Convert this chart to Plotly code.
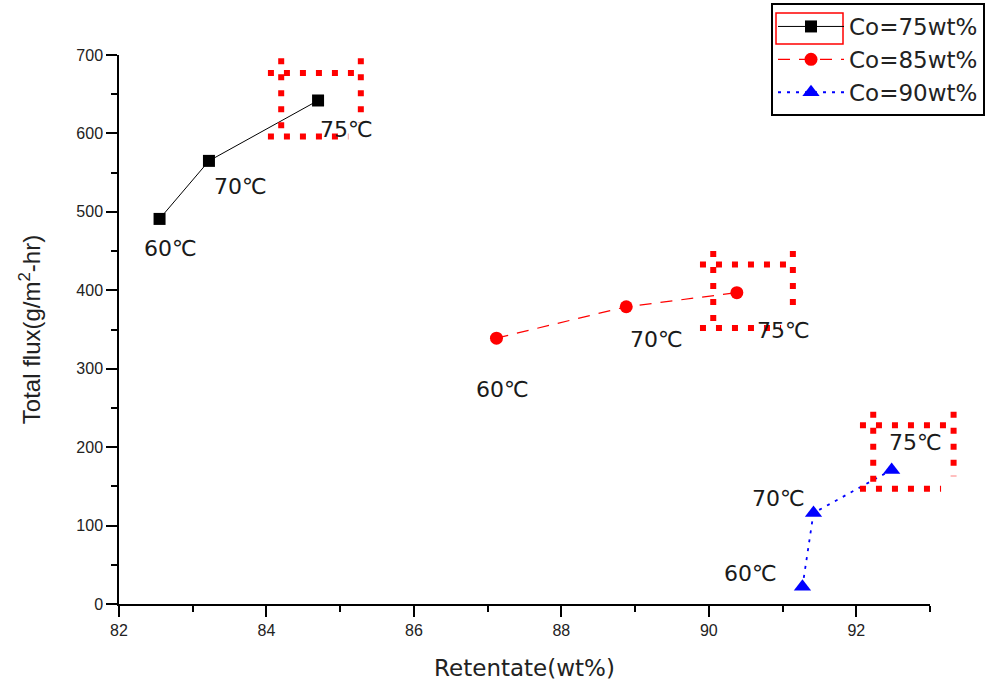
import plotly.graph_objects as go

# Retentate concentration (wt%) and total flux for three feed concentrations
temps = [60, 70, 75]

co75_x = [82.55, 83.22, 84.70]
co75_y = [491, 565, 642]

co85_x = [87.12, 88.88, 90.38]
co85_y = [339, 379, 397]

co90_x = [91.27, 91.42, 92.48]
co90_y = [22, 116, 171]

series_names = ["Co=75wt%", "Co=85wt%", "Co=90wt%"]

X_RANGE = [82, 93]
Y_RANGE = [0, 700]

FONT = "Liberation Sans, Arial, sans-serif"
WIDE_FONT = "DejaVu Sans, Liberation Sans, sans-serif"

fig = go.Figure()

fig.add_trace(go.Scatter(
    x=co75_x, y=co75_y, name=series_names[0], mode="lines+markers",
    line=dict(color="black", width=1),
    marker=dict(symbol="square", size=12, color="black"),
))
fig.add_trace(go.Scatter(
    x=co85_x, y=co85_y, name=series_names[1], mode="lines+markers",
    line=dict(color="#ff0000", width=1.2, dash="12px,9px"),
    marker=dict(symbol="circle", size=13, color="#ff0000"),
))
fig.add_trace(go.Scatter(
    x=co90_x, y=co90_y, name=series_names[2], mode="lines+markers",
    line=dict(color="#0000ff", width=1.8, dash="3px,6px"),
    marker=dict(symbol="triangle-up", size=15, color="#0000ff"),
))

# temperature labels next to each point (pixel offsets from the marker)
label_offsets = [
    [(11, -30), (32, -26), (28, -29)],
    [(6, -51), (30, -33), (47, -38)],
    [(-52, 13), (-35, 15), (24, 27)],
]
for xs, ys, offs in zip([co75_x, co85_x, co90_x], [co75_y, co85_y, co90_y], label_offsets):
    for t, x, y, (dx, dy) in zip(temps, xs, ys, offs):
        fig.add_annotation(
            x=x, y=y, text=f"{t}℃", showarrow=False,
            xshift=dx, yshift=dy,
            font=dict(family=WIDE_FONT, size=22, color="#1a1a1a"),
        )


def to_paper_x(v):
    return (v - X_RANGE[0]) / (X_RANGE[1] - X_RANGE[0])


def to_paper_y(v):
    return (v - Y_RANGE[0]) / (Y_RANGE[1] - Y_RANGE[0])


# dotted highlight boxes around the 75 degC points (data units)
highlight_boxes = [
    dict(row_start=84.02, left=84.20, right=85.28, bottom_end=85.11,
         top=677, bottom=596, col_start=696, right_end=614),
    dict(row_start=89.88, left=90.06, right=91.14, bottom_end=90.98,
         top=433, bottom=352, col_start=450, right_end=369),
    dict(row_start=92.05, left=92.23, right=93.32, bottom_end=93.15,
         top=228, bottom=147, col_start=245, right_end=163),
]
dot_line = dict(color="#ff0000", width=6, dash="6px,10px")
for b in highlight_boxes:
    segs = [
        (b["row_start"], b["top"], b["right"], b["top"]),
        (b["row_start"], b["bottom"], b["bottom_end"], b["bottom"]),
        (b["left"], b["col_start"], b["left"], b["bottom"]),
        (b["right"], b["col_start"], b["right"], b["right_end"]),
    ]
    for x0, y0, x1, y1 in segs:
        fig.add_shape(
            type="line", xref="paper", yref="paper",
            x0=to_paper_x(x0), y0=to_paper_y(y0),
            x1=to_paper_x(x1), y1=to_paper_y(y1),
            line=dot_line, layer="above",
        )

# red selection frame around the first legend sample
fig.add_shape(
    type="rect", xref="paper", yref="paper",
    x0=(776 - 119) / 811, x1=(843 - 119) / 811,
    y0=(604 - 44) / 549, y1=(604 - 13) / 549,
    line=dict(color="#ff0000", width=1.5), layer="above",
)

axis_common = dict(
    showgrid=False, zeroline=False, showline=True,
    linecolor="black", linewidth=1.5,
    ticks="outside", ticklen=11, tickwidth=1.5, tickcolor="black",
    tickfont=dict(family=FONT, size=16, color="#222"),
    minor=dict(ticks="outside", ticklen=6, tickwidth=1.5, tickcolor="black"),
)

fig.update_xaxes(
    range=X_RANGE, dtick=2, tick0=82, minor_dtick=1,
    title=dict(text="Retentate(wt%)", font=dict(family=WIDE_FONT, size=23, color="#222"), standoff=22),
    **axis_common,
)
fig.update_yaxes(
    range=Y_RANGE, dtick=100, tick0=0, minor_dtick=50,
    title=dict(text="Total flux(g/m<sup>2</sup>-hr)", font=dict(family=FONT, size=24, color="#222"), standoff=29),
    **axis_common,
)

fig.update_layout(
    width=999, height=684,
    margin=dict(l=119, r=69, t=55, b=80, autoexpand=False),
    paper_bgcolor="white", plot_bgcolor="white",
    font=dict(family=FONT, color="#222"),
    showlegend=True,
    legend=dict(
        x=(771 - 119) / 811, y=1 + 52 / 549,
        xanchor="left", yanchor="top",
        bordercolor="black", borderwidth=2, bgcolor="rgba(0,0,0,0)",
        font=dict(family=WIDE_FONT, size=23, color="#222"),
        tracegroupgap=0, itemwidth=66,
    ),
)

fig.write_html("out.html")
